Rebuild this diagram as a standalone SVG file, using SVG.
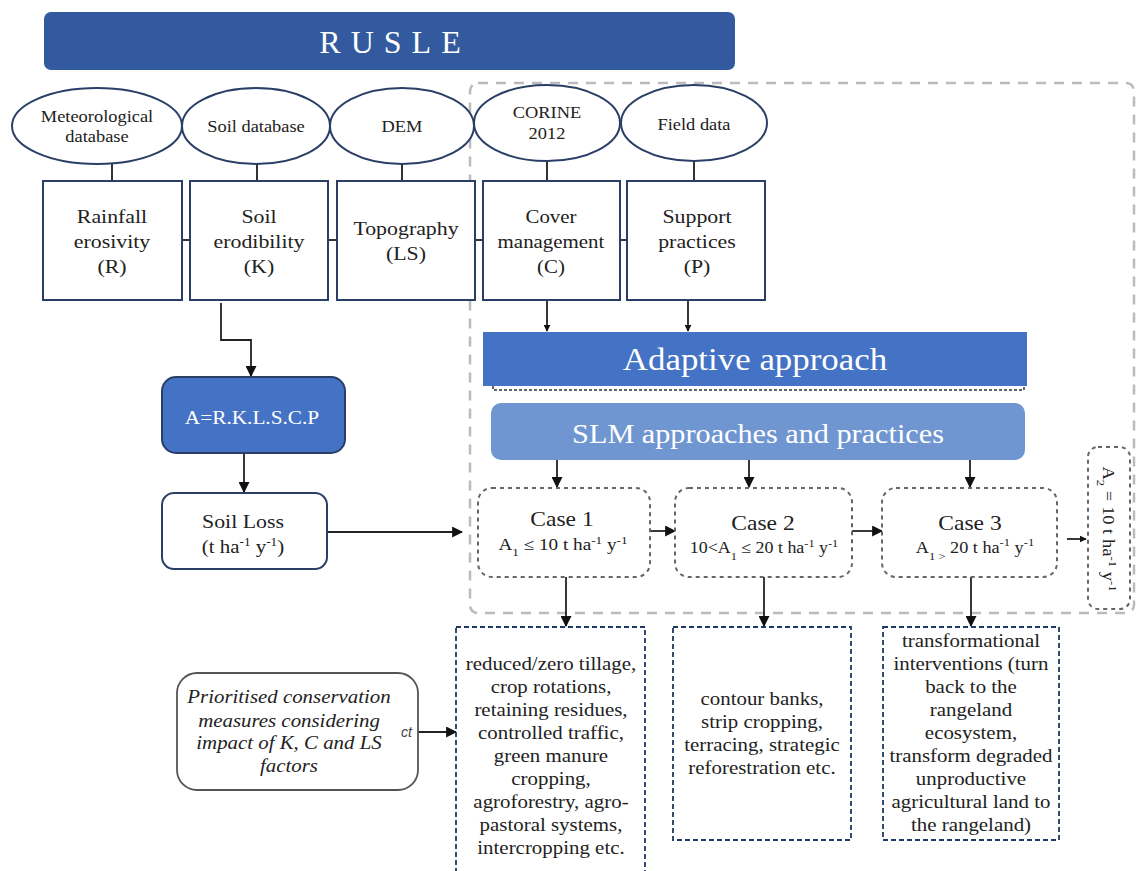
<svg xmlns="http://www.w3.org/2000/svg" width="1136" height="871" viewBox="0 0 1136 871">
<defs>
<marker id="ah" viewBox="0 0 10 10" refX="9" refY="5" markerWidth="7" markerHeight="7" markerUnits="userSpaceOnUse" orient="auto"><path d="M0,0 L10,5 L0,10 z" fill="#111"/></marker>
<marker id="ahb" viewBox="0 0 10 10" refX="9" refY="5" markerWidth="11" markerHeight="11" markerUnits="userSpaceOnUse" orient="auto"><path d="M0,0 L10,5 L0,10 z" fill="#111"/></marker>
<style>
.t{font-family:'Liberation Serif','Times New Roman',Times,'DejaVu Serif',serif;fill:#222;text-anchor:middle}
.w{fill:#fff}
.ell{fill:#fff;stroke:#2a3f66;stroke-width:2}
.box{fill:#fff;stroke:#2a3f66;stroke-width:2}
.ln{stroke:#333;stroke-width:2;fill:none}
.arr{stroke:#222;stroke-width:1.8;fill:none;marker-end:url(#ahb)}
.case{fill:#fff;stroke:#666;stroke-width:2;stroke-dasharray:4 4}
.nav{fill:#fff;stroke:#203864;stroke-width:1.8;stroke-dasharray:5 3}
.s{font-size:19px}
.e{font-size:16px}
.b{font-size:19px}
.f{font-size:16px}
</style>
</defs>
<rect x="470" y="83" width="664" height="530" rx="8" fill="none" stroke="#bbb" stroke-width="2.5" stroke-dasharray="10 8"/>
<g id="rusle"><rect x="44" y="12" width="691" height="58" rx="7" fill="#335a9f"/><text class="t w" x="395" y="53" font-size="32" letter-spacing="10">RUSLE</text></g>
<g id="connectors">
<line class="ln" x1="112" y1="164" x2="112" y2="181"/>
<line class="ln" x1="257" y1="164" x2="257" y2="181"/>
<line class="ln" x1="402" y1="164" x2="402" y2="181"/>
<line class="ln" x1="547" y1="161" x2="547" y2="181"/>
<line class="ln" x1="694" y1="161" x2="694" y2="181"/>
<line class="ln" x1="182" y1="240" x2="190" y2="240"/>
<line class="ln" x1="328" y1="240" x2="337" y2="240"/>
<line class="ln" x1="475" y1="240" x2="483" y2="240"/>
<line class="ln" x1="620" y1="240" x2="627" y2="240"/>
<path class="arr" d="M547 301 V331" style="marker-end:url(#ah)"/>
<path class="arr" d="M688 301 V331" style="marker-end:url(#ah)"/>
<path class="arr" d="M221 303 V340 H251 V376"/>
<path class="arr" d="M244 453 V492"/>
<path class="arr" d="M327 532 H462"/>
<path class="arr" d="M557 460 V487"/>
<path class="arr" d="M749 460 V487"/>
<path class="arr" d="M970 460 V487"/>
<path class="arr" d="M650 531 H675"/>
<path class="arr" d="M852 531 H882"/>
<path class="arr" d="M1067 539 H1086" style="marker-end:url(#ah)"/>
<path class="arr" d="M566 577 V626"/>
<path class="arr" d="M764 577 V626"/>
<path class="arr" d="M971 577 V626"/>
<path class="arr" d="M418 732 H456"/>
</g>
<g id="ell-met"><ellipse class="ell" cx="97" cy="126" rx="85" ry="38"/><text class="t e" transform="matrix(1.15 0 0 1 97 122)">Meteorological</text><text class="t e" transform="matrix(1.15 0 0 1 97 142)">database</text></g>
<g id="ell-soil"><ellipse class="ell" cx="256" cy="126" rx="74" ry="38"/><text class="t e" transform="matrix(1.15 0 0 1 256 132)">Soil database</text></g>
<g id="ell-dem"><ellipse class="ell" cx="402" cy="126" rx="72" ry="38"/><text class="t e" transform="matrix(1.15 0 0 1 402 132)">DEM</text></g>
<g id="ell-corine"><ellipse class="ell" cx="547" cy="123" rx="73" ry="38"/><text class="t e" transform="matrix(1.15 0 0 1 547 118)">CORINE</text><text class="t e" transform="matrix(1.15 0 0 1 547 139)">2012</text></g>
<g id="ell-field"><ellipse class="ell" cx="694" cy="123" rx="73" ry="38"/><text class="t e" transform="matrix(1.15 0 0 1 694 130)">Field data</text></g>
<g id="box-r"><rect class="box" x="43" y="181" width="139" height="119"/><text class="t s" transform="matrix(1.15 0 0 1 112 223)">Rainfall</text><text class="t s" transform="matrix(1.15 0 0 1 112 248)">erosivity</text><text class="t s" transform="matrix(1.15 0 0 1 112 273)">(R)</text></g>
<g id="box-k"><rect class="box" x="190" y="181" width="138" height="119"/><text class="t s" transform="matrix(1.15 0 0 1 259 223)">Soil</text><text class="t s" transform="matrix(1.15 0 0 1 259 248)">erodibility</text><text class="t s" transform="matrix(1.15 0 0 1 259 273)">(K)</text></g>
<g id="box-ls"><rect class="box" x="337" y="181" width="138" height="119"/><text class="t s" transform="matrix(1.15 0 0 1 406 235)">Topography</text><text class="t s" transform="matrix(1.15 0 0 1 406 260)">(LS)</text></g>
<g id="box-c"><rect class="box" x="483" y="181" width="137" height="119"/><text class="t s" transform="matrix(1.1 0 0 1 551 223)">Cover</text><text class="t s" transform="matrix(1.1 0 0 1 551 248)">management</text><text class="t s" transform="matrix(1.1 0 0 1 551 273)">(C)</text></g>
<g id="box-p"><rect class="box" x="627" y="181" width="138" height="119"/><text class="t s" transform="matrix(1.15 0 0 1 697 223)">Support</text><text class="t s" transform="matrix(1.15 0 0 1 697 248)">practices</text><text class="t s" transform="matrix(1.15 0 0 1 697 273)">(P)</text></g>
<g id="adaptive"><rect x="483" y="332" width="544" height="54" fill="#4472c4"/><path d="M493 386 V390 H1024 V386" fill="none" stroke="#333" stroke-width="1.5" stroke-dasharray="3 2"/><text class="t w" transform="matrix(1.09 0 0 1 755 370)" font-size="32">Adaptive approach</text></g>
<g id="slm"><rect x="491" y="403" width="534" height="57" rx="10" fill="#7096d2"/><text class="t w" transform="matrix(1.08 0 0 1 758 443)" font-size="28">SLM approaches and practices</text></g>
<g id="formula"><rect x="162" y="377" width="183" height="76" rx="14" fill="#4472c4" stroke="#2a3f66" stroke-width="2"/><text class="t w" transform="matrix(1.12 0 0 1 252 424)" font-size="19">A=R.K.L.S.C.P</text></g>
<g id="soilloss"><rect class="box" x="162" y="493" width="165" height="76" rx="12"/><text class="t s" transform="matrix(1.15 0 0 1 243 528)">Soil Loss</text><text class="t s" transform="matrix(1.1 0 0 1 243 553)">(t ha<tspan font-size="12" baseline-shift="super">-1</tspan> y<tspan font-size="12" baseline-shift="super">-1</tspan>)</text></g>
<g id="case1"><rect class="case" x="478" y="488" width="172" height="89" rx="14"/><text class="t" transform="matrix(1.12 0 0 1 562 526)" font-size="21">Case 1</text><text class="t f" transform="matrix(1.2 0 0 1 563 550)">A<tspan font-size="11" baseline-shift="sub">1</tspan> ≤ 10 t ha<tspan font-size="11" baseline-shift="super">-1</tspan> y<tspan font-size="11" baseline-shift="super">-1</tspan></text></g>
<g id="case2"><rect class="case" x="675" y="488" width="177" height="89" rx="14"/><text class="t" transform="matrix(1.12 0 0 1 763 530)" font-size="21">Case 2</text><text class="t f" transform="matrix(1.12 0 0 1 764 553)">10&lt;A<tspan font-size="11" baseline-shift="sub">1</tspan> ≤ 20 t ha<tspan font-size="11" baseline-shift="super">-1</tspan> y<tspan font-size="11" baseline-shift="super">-1</tspan></text></g>
<g id="case3"><rect class="case" x="882" y="488" width="175" height="89" rx="14"/><text class="t" transform="matrix(1.12 0 0 1 970 530)" font-size="21">Case 3</text><text class="t f" transform="matrix(1.14 0 0 1 975 553)">A<tspan font-size="11" baseline-shift="sub">1 &gt;</tspan> 20 t ha<tspan font-size="11" baseline-shift="super">-1</tspan> y<tspan font-size="11" baseline-shift="super">-1</tspan></text></g>
<g id="a2"><rect class="case" x="1088" y="447" width="42" height="162" rx="10"/><text class="t" transform="translate(1103 529) rotate(90) scale(1.16 1)" font-size="16">A<tspan font-size="11" baseline-shift="sub">2</tspan> = 10 t ha<tspan font-size="11" baseline-shift="super">-1</tspan> y<tspan font-size="11" baseline-shift="super">-1</tspan></text></g>
<g id="prior"><rect x="177" y="673" width="241" height="117" rx="20" fill="#fff" stroke="#555" stroke-width="1.8"/><g class="t" font-size="19.5" font-style="italic"><text transform="matrix(1.07 0 0 1 289 703)">Prioritised conservation</text><text transform="matrix(1.07 0 0 1 289 727)">measures considering</text><text transform="matrix(1.07 0 0 1 289 749)">impact of K, C and LS</text><text transform="matrix(1.07 0 0 1 289 772)">factors</text></g><text x="401" y="737" font-family="'Liberation Sans',Arial,sans-serif" font-style="italic" font-size="14" fill="#444">ct</text></g>
<g id="list1"><rect class="nav" x="456" y="627" width="189" height="250"/><g class="t b"><text transform="matrix(1.1 0 0 1 551 670)">reduced/zero tillage,</text><text transform="matrix(1.1 0 0 1 551 693)">crop rotations,</text><text transform="matrix(1.1 0 0 1 551 716)">retaining residues,</text><text transform="matrix(1.1 0 0 1 551 739)">controlled traffic,</text><text transform="matrix(1.1 0 0 1 551 762)">green manure</text><text transform="matrix(1.1 0 0 1 551 785)">cropping,</text><text transform="matrix(1.1 0 0 1 551 808)">agroforestry, agro-</text><text transform="matrix(1.1 0 0 1 551 831)">pastoral systems,</text><text transform="matrix(1.1 0 0 1 551 854)">intercropping etc.</text></g></g>
<g id="list2"><rect class="nav" x="673" y="627" width="178" height="213"/><g class="t b"><text transform="matrix(1.1 0 0 1 762 705)">contour banks,</text><text transform="matrix(1.1 0 0 1 762 728)">strip cropping,</text><text transform="matrix(1.1 0 0 1 762 751)">terracing, strategic</text><text transform="matrix(1.1 0 0 1 762 774)">reforestration etc.</text></g></g>
<g id="list3"><rect class="nav" x="883" y="627" width="176" height="213"/><g class="t b"><text transform="matrix(1.1 0 0 1 971 647)">transformational</text><text transform="matrix(1.1 0 0 1 971 670)">interventions (turn</text><text transform="matrix(1.1 0 0 1 971 693)">back to the</text><text transform="matrix(1.1 0 0 1 971 716)">rangeland</text><text transform="matrix(1.1 0 0 1 971 739)">ecosystem,</text><text transform="matrix(1.1 0 0 1 971 762)">transform degraded</text><text transform="matrix(1.1 0 0 1 971 785)">unproductive</text><text transform="matrix(1.1 0 0 1 971 808)">agricultural land to</text><text transform="matrix(1.1 0 0 1 971 831)">the rangeland)</text></g></g>
</svg>
